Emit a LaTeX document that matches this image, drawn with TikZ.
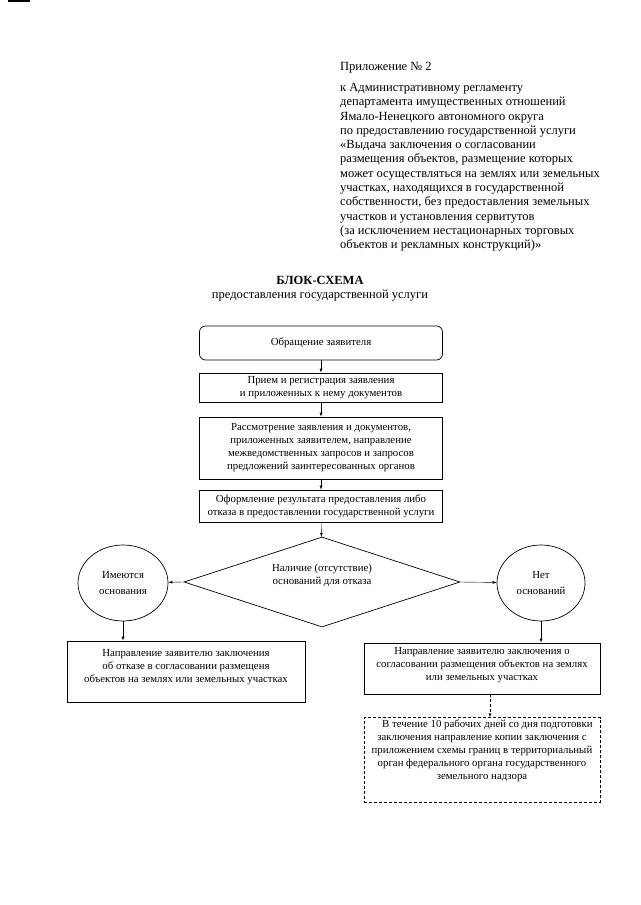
\documentclass[tikz,border=0pt]{standalone}
\usepackage{fontspec}
\setmainfont{Liberation Serif}
\usepackage{tikz}
\usetikzlibrary{arrows, shapes}

\begin{document}
\begin{tikzpicture}[x=1pt, y=-1pt, >=latex,
    box/.style={draw, rectangle, line width=0.7pt, minimum width=243pt, align=center, inner sep=2pt, font=\fontsize{10.8}{13}\selectfont},
    oval/.style={draw, ellipse, line width=0.7pt, minimum width=90pt, minimum height=76pt, inner sep=0pt, align=center, font=\fontsize{10.8}{16}\selectfont},
    hdr/.style={inner sep=0pt, align=left, font=\fontsize{12.5}{14.3}\selectfont}
]
\useasboundingbox (0,0) rectangle (640,905);
\draw[line width=1.5pt] (8,1) -- (30,1);

\node[hdr, anchor=west] (appno) at (340,68) {Приложение № 2};
\node[hdr, anchor=north west] (appto) at (340,83) {к Административному регламенту\\
департамента имущественных отношений\\
Ямало-Ненецкого автономного округа\\
по предоставлению государственной услуги\\
«Выдача заключения о согласовании\\
размещения объектов, размещение которых\\
может осуществляться на землях или земельных\\
участках, находящихся в государственной\\
собственности, без предоставления земельных\\
участков и установления сервитутов\\
(за исключением нестационарных торговых\\
объектов и рекламных конструкций)»};

\node[hdr, font=\fontsize{12.5}{14.3}\selectfont\bfseries] (title) at (320,280) {БЛОК-СХЕМА};
\node[hdr] (subtitle) at (320,296) {предоставления государственной услуги};

\node[box, rounded corners=6pt, minimum height=34pt] (appeal) at (321,343) {Обращение заявителя};
\node[box, minimum height=29pt] (reg) at (321,387.5) {Прием и регистрация заявления\\ и приложенных к нему документов};
\node[box, minimum height=62pt] (review) at (321,448) {Рассмотрение заявления и документов,\\ приложенных заявителем, направление\\ межведомственных запросов и запросов\\ предложений заинтересованных органов};
\node[box, minimum height=32pt] (result) at (321,506) {Оформление результата предоставления либо\\ отказа в предоставлении государственной услуги};

\node[draw, diamond, line width=0.7pt, minimum width=276pt, minimum height=90pt, inner sep=0pt] (cond) at (322,582) {};
\node[box, draw=none] (condtext) at (322,575) {Наличие (отсутствие)\\ оснований для отказа};

\node[oval] (yes) at (123,583) {Имеются\\ основания};
\node[oval, minimum width=88pt] (no) at (541,583) {Нет\\ оснований};

\node[box, minimum width=238pt, minimum height=61pt, text depth=12pt] (refuse) at (186,671.5) {Направление заявителю заключения\\ об отказе в согласовании размещеня\\ объектов на землях или земельных участках};
\node[box, minimum width=236pt, minimum height=51pt, text depth=10pt] (agree) at (482,668.5) {Направление заявителю заключения о\\ согласовании размещения объектов на землях\\ или земельных участках};
\node[box, densely dashed, minimum width=236pt, minimum height=84pt, text depth=21pt] (copy) at (482,760) {\hspace*{1em}В течение 10 рабочих дней со дня подготовки\\ заключения направление копии заключения с\\ приложением схемы границ в территориальный\\ орган федерального органа государственного\\ земельного надзора};

\draw[->, thin] (appeal) -- (reg);
\draw[->, thin] (reg) -- (review);
\draw[->, thin] (review) -- (result);
\draw[->, thin] (result) -- (cond);
\draw[->, thin] (cond.west) -- (yes);
\draw[->, thin] (cond.east) -- (no);
\draw[->, thin] (yes) -- (yes |- refuse.north);
\draw[->, thin] (no) -- (no |- agree.north);
\draw[->, thin, densely dashed] ([xshift=8pt]agree.south) -- ([xshift=8pt]copy.north);
\end{tikzpicture}
\end{document}
